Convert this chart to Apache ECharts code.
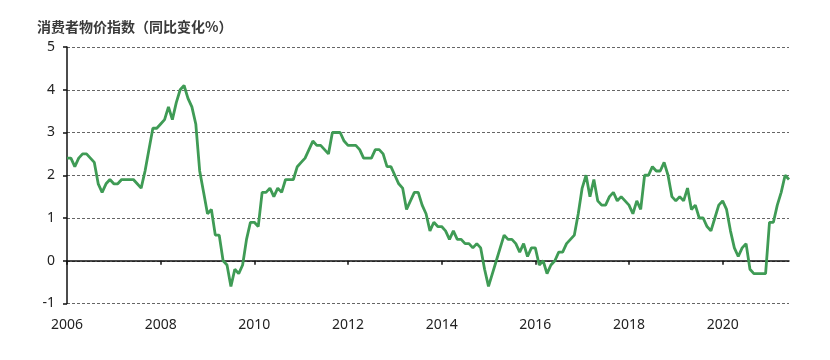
<!DOCTYPE html>
<html>
<head>
<meta charset="utf-8">
<script src="https://cdn.jsdelivr.net/npm/echarts@6/dist/echarts.min.js"></script>
<style>
html,body{margin:0;padding:0;background:#fff;}
#c{width:830px;height:360px;}
</style>
</head>
<body>
<div id="c"></div>
<script>
// Title text
var titleText = '消费者物价指数（同比变化%）';

// Monthly values, Jan 2006 – Jun 2021 (year-on-year %)
var y2006 = [2.4, 2.4, 2.2, 2.4, 2.5, 2.5, 2.4, 2.3, 1.8, 1.6, 1.8, 1.9];
var y2007 = [1.8, 1.8, 1.9, 1.9, 1.9, 1.9, 1.8, 1.7, 2.1, 2.6, 3.1, 3.1];
var y2008 = [3.2, 3.3, 3.6, 3.3, 3.7, 4.0, 4.1, 3.8, 3.6, 3.2, 2.1, 1.6];
var y2009 = [1.1, 1.2, 0.6, 0.6, 0.0, -0.1, -0.6, -0.2, -0.3, -0.1, 0.5, 0.9];
var y2010 = [0.9, 0.8, 1.6, 1.6, 1.7, 1.5, 1.7, 1.6, 1.9, 1.9, 1.9, 2.2];
var y2011 = [2.3, 2.4, 2.6, 2.8, 2.7, 2.7, 2.6, 2.5, 3.0, 3.0, 3.0, 2.8];
var y2012 = [2.7, 2.7, 2.7, 2.6, 2.4, 2.4, 2.4, 2.6, 2.6, 2.5, 2.2, 2.2];
var y2013 = [2.0, 1.8, 1.7, 1.2, 1.4, 1.6, 1.6, 1.3, 1.1, 0.7, 0.9, 0.8];
var y2014 = [0.8, 0.7, 0.5, 0.7, 0.5, 0.5, 0.4, 0.4, 0.3, 0.4, 0.3, -0.2];
var y2015 = [-0.6, -0.3, 0.0, 0.3, 0.6, 0.5, 0.5, 0.4, 0.2, 0.4, 0.1, 0.3];
var y2016 = [0.3, -0.1, 0.0, -0.3, -0.1, 0.0, 0.2, 0.2, 0.4, 0.5, 0.6, 1.1];
var y2017 = [1.7, 2.0, 1.5, 1.9, 1.4, 1.3, 1.3, 1.5, 1.6, 1.4, 1.5, 1.4];
var y2018 = [1.3, 1.1, 1.4, 1.2, 2.0, 2.0, 2.2, 2.1, 2.1, 2.3, 2.0, 1.5];
var y2019 = [1.4, 1.5, 1.4, 1.7, 1.2, 1.3, 1.0, 1.0, 0.8, 0.7, 1.0, 1.3];
var y2020 = [1.4, 1.2, 0.7, 0.3, 0.1, 0.3, 0.4, -0.2, -0.3, -0.3, -0.3, -0.3];
var y2021 = [0.9, 0.9, 1.3, 1.6, 2.0, 1.9];

// Tick labels shown on the x axis
var tickYears = ['2006', '2008', '2010', '2012', '2014', '2016', '2018', '2020'];
var yTicks = [-1, 0, 1, 2, 3, 4, 5];

var yearBlocks = [y2006, y2007, y2008, y2009, y2010, y2011, y2012, y2013,
                  y2014, y2015, y2016, y2017, y2018, y2019, y2020, y2021];
var categories = [];
var values = [];
yearBlocks.forEach(function (arr, yi) {
  arr.forEach(function (v, mi) {
    categories.push((2006 + yi) + '-' + (mi < 9 ? '0' : '') + (mi + 1));
    values.push(v);
  });
});

function isTick(idx, val) {
  return val.slice(5) === '01' && tickYears.indexOf(val.slice(0, 4)) >= 0;
}

var chart = echarts.init(document.getElementById('c'), null, {renderer: 'canvas'});
chart.setOption({
  animation: false,
  backgroundColor: '#fff',
  title: {
    text: titleText,
    left: 32,
    top: 15,
    textStyle: {
      fontFamily: 'Noto Sans CJK SC',
      fontSize: 14,
      fontWeight: 'bold',
      color: '#3a3a3a'
    }
  },
  grid: {left: 67, right: 41, top: 47, bottom: 56.5},
  xAxis: [
    {
      type: 'category',
      data: categories,
      boundaryGap: false,
      position: 'bottom',
      axisLine: {show: false, onZero: false},
      axisTick: {show: false},
      splitLine: {show: false},
      axisLabel: {
        interval: isTick,
        formatter: function (v) { return v.slice(0, 4); },
        fontFamily: 'Noto Sans',
        fontSize: 14,
        color: '#222',
        margin: 15
      }
    },
    {
      type: 'category',
      data: categories,
      boundaryGap: false,
      position: 'bottom',
      axisLine: {show: true, onZero: true, lineStyle: {color: '#111', width: 1.5}},
      axisTick: {show: true, interval: isTick, length: 4, lineStyle: {color: '#111', width: 1.5}},
      axisLabel: {show: false},
      splitLine: {show: false}
    }
  ],
  yAxis: {
    type: 'value',
    min: yTicks[0],
    max: yTicks[yTicks.length - 1],
    interval: 1,
    axisLine: {show: true, lineStyle: {color: '#111', width: 1.5}},
    axisTick: {show: true, length: 4, lineStyle: {color: '#111', width: 1.5}},
    axisLabel: {
      fontFamily: 'Noto Sans',
      fontSize: 14,
      color: '#222',
      margin: 12
    },
    splitLine: {show: true, lineStyle: {color: '#666', width: 1, type: [3, 2]}}
  },
  series: [{
    type: 'line',
    xAxisIndex: 0,
    data: values,
    symbol: 'none',
    lineStyle: {color: '#3f9b55', width: 2.8},
    z: 5
  }]
});
</script>
</body>
</html>
